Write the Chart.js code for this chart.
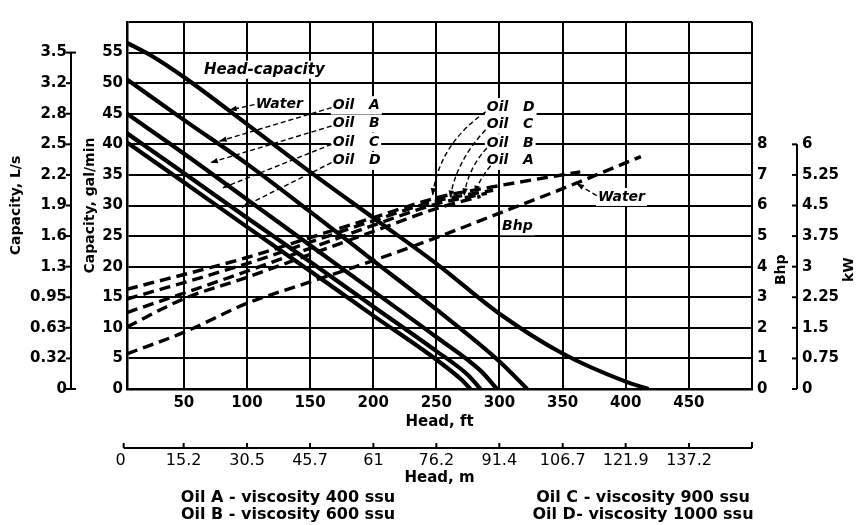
<!DOCTYPE html>
<html><head><meta charset="utf-8">
<script src="https://cdn.jsdelivr.net/npm/chart.js@4.4.0/dist/chart.umd.min.js"></script>
<style>html,body{margin:0;padding:0;background:#fff}</style>
</head><body>
<canvas id="c" width="857" height="525"></canvas>
<script>
// ---------------- data ----------------
const headFtTicks = [50, 100, 150, 200, 250, 300, 350, 400, 450];
const headMTicks = [0, 15.2, 30.5, 45.7, 61, 76.2, 91.4, 106.7, 121.9, 137.2];
const gpmTicks = [0, 5, 10, 15, 20, 25, 30, 35, 40, 45, 50, 55];
const lpsLabels = ['0', '0.32', '0.63', '0.95', '1.3', '1.6', '1.9', '2.2', '2.5', '2.8', '3.2', '3.5'];
const bhpTicks = [0, 1, 2, 3, 4, 5, 6, 7, 8];
const kwTicks = [0, 0.75, 1.5, 2.25, 3, 3.75, 4.5, 5.25, 6];
const kwLabels = ['0', '0.75', '1.5', '2.25', '3', '3.75', '4.5', '5.25', '6'];

// head-capacity curves: head (ft) -> capacity (gal/min)
const capWaterFt = [5, 25, 50, 100, 150, 200, 250, 300, 350, 400, 418];
const capWaterGpm = [56.6, 54.4, 51, 43.3, 35.5, 28, 20.5, 12.3, 5.8, 1.2, 0];
const capOilAFt = [5, 50, 100, 150, 200, 250, 300, 322];
const capOilAGpm = [50.6, 44, 36.8, 29, 21, 13, 4.5, 0];
const capOilBFt = [5, 50, 100, 150, 200, 250, 285, 298];
const capOilBGpm = [45, 38.5, 31, 23.5, 16, 8.5, 3, 0];
const capOilCFt = [5, 50, 100, 150, 200, 250, 275, 285];
const capOilCGpm = [41.8, 35.3, 28, 20.8, 13.5, 6.2, 2.3, 0];
const capOilDFt = [5, 50, 100, 150, 200, 250, 270, 277];
const capOilDGpm = [40.3, 33.8, 26.5, 19.3, 12, 4.8, 1.5, 0];

// brake horsepower curves: head (ft) -> Bhp
const bhpWaterFt = [5, 50, 100, 150, 200, 250, 300, 350, 412];
const bhpWater = [1.15, 1.85, 2.8, 3.5, 4.2, 4.95, 5.75, 6.55, 7.6];
const bhpOilDFt = [5, 100, 150, 200, 250, 300, 364];
const bhpOilD = [3.26, 4.3, 4.95, 5.6, 6.25, 6.65, 7.1];
const bhpOilCFt = [5, 100, 150, 200, 250, 295];
const bhpOilC = [2.94, 4.1, 4.8, 5.5, 6.15, 6.5];
const bhpOilBFt = [5, 100, 150, 200, 250, 290];
const bhpOilB = [2.5, 3.85, 4.6, 5.35, 6.05, 6.4];
const bhpOilAFt = [5, 50, 100, 150, 200, 250, 285];
const bhpOilA = [2.03, 2.95, 3.65, 4.4, 5.15, 5.9, 6.3];

const footnotes = [
  ['Oil A - viscosity 400 ssu', 'Oil B - viscosity 600 ssu'],
  ['Oil C - viscosity 900 ssu', 'Oil D- viscosity 1000 ssu']
];

// ---------------- chart ----------------
const F = '"DejaVu Sans", sans-serif';
const pts = (xs, ys) => xs.map((x, i) => ({x: x, y: ys[i]}));
const solid = (label, xs, ys) => ({label, data: pts(xs, ys), yAxisID: 'y', borderColor: '#000', borderWidth: 4.2,
  pointRadius: 0, fill: false, cubicInterpolationMode: 'monotone'});
const dashed = (label, xs, ys) => ({label, data: pts(xs, ys), yAxisID: 'yB', borderColor: '#000', borderWidth: 3.4,
  borderDash: [11, 6], pointRadius: 0, fill: false, cubicInterpolationMode: 'monotone'});

const decor = {
  id: 'decor',
  afterDatasetsDraw(chart) {
    const ctx = chart.ctx, s = chart.scales;
    const X = v => s.x.getPixelForValue(v), Y = v => s.y.getPixelForValue(v);
    ctx.save();
    ctx.strokeStyle = '#000'; ctx.fillStyle = '#000';

    function label(text, ft, gpm, size) {
      ctx.font = 'italic bold ' + (size || 14) + 'px ' + F;
      const w = ctx.measureText(text).width;
      const x = X(ft), y = Y(gpm);
      ctx.fillStyle = '#fff';
      ctx.fillRect(x - 2, y - 9, w + 4, 18);
      ctx.fillStyle = '#000';
      ctx.textAlign = 'left'; ctx.textBaseline = 'middle';
      ctx.fillText(text, x, y);
    }
    function arrow(pts, curve) {
      const p = pts.map(q => [X(q[0]), Y(q[1])]);
      ctx.save();
      ctx.lineWidth = 1.4; ctx.setLineDash([5, 3]);
      ctx.beginPath(); ctx.moveTo(p[0][0], p[0][1]);
      if (curve) ctx.quadraticCurveTo(p[1][0], p[1][1], p[2][0], p[2][1]);
      else ctx.lineTo(p[p.length - 1][0], p[p.length - 1][1]);
      ctx.stroke();
      ctx.setLineDash([]);
      const tip = p[p.length - 1], prev = curve ? p[1] : p[0];
      const a = Math.atan2(tip[1] - prev[1], tip[0] - prev[0]);
      ctx.beginPath();
      ctx.moveTo(tip[0], tip[1]);
      ctx.lineTo(tip[0] - 8 * Math.cos(a - 0.35), tip[1] - 8 * Math.sin(a - 0.35));
      ctx.lineTo(tip[0] - 8 * Math.cos(a + 0.35), tip[1] - 8 * Math.sin(a + 0.35));
      ctx.closePath(); ctx.fill();
      ctx.restore();
    }

    // left labels
    label('Head-capacity', 66, 52.2, 15);
    label('Water', 107, 46.6);
    label('Oil   A', 168, 46.4);
    label('Oil   B', 168, 43.4);
    label('Oil   C', 168, 40.4);
    label('Oil   D', 168, 37.3);
    arrow([[106, 46.5], [86, 45.6]]);
    arrow([[167, 46.0], [78, 40.5]]);
    arrow([[167, 43.0], [71, 37.0]]);
    arrow([[167, 40.0], [81, 32.9]]);
    arrow([[167, 37.0], [96, 29.7]]);
    // right labels
    label('Oil   D', 290, 46.1);
    label('Oil   C', 290, 43.2);
    label('Oil   B', 290, 40.2);
    label('Oil   A', 290, 37.3);
    arrow([[289, 45.3], [252, 40], [247, 31.6]], true);
    arrow([[289, 42.4], [265, 37], [261, 31.2]], true);
    arrow([[290, 39.4], [275, 36], [272, 31.6]], true);
    arrow([[293, 36.5], [283, 34], [281, 32.0]], true);
    label('Water', 378, 31.4);
    arrow([[377, 31.6], [361, 33.6]]);
    label('Bhp', 302, 26.6);

    // L/s axis line + ticks
    const ax = 71;
    ctx.lineWidth = 2;
    ctx.beginPath(); ctx.moveTo(ax, Y(0)); ctx.lineTo(ax, Y(55)); ctx.stroke();
    gpmTicks.forEach(v => { ctx.beginPath(); ctx.moveTo(ax - 5, Y(v)); ctx.lineTo(ax, Y(v)); ctx.stroke(); });
    ctx.beginPath(); ctx.moveTo(ax, Y(0)); ctx.lineTo(ax + 5, Y(0)); ctx.stroke();
    ctx.beginPath(); ctx.moveTo(ax, Y(55)); ctx.lineTo(ax + 5, Y(55)); ctx.stroke();

    // kW axis line + ticks
    const K = v => s.yK.getPixelForValue(v);
    const kx = 797;
    ctx.beginPath(); ctx.moveTo(kx, K(0)); ctx.lineTo(kx, K(6)); ctx.stroke();
    kwTicks.forEach(v => { ctx.beginPath(); ctx.moveTo(kx - 5, K(v)); ctx.lineTo(kx, K(v)); ctx.stroke(); });

    // metre axis line + ticks
    const M = v => s.xm.getPixelForValue(v);
    const my = 448;
    ctx.beginPath(); ctx.moveTo(M(0) + 3, my); ctx.lineTo(s.x.right, my); ctx.stroke();
    headMTicks.forEach(v => { ctx.beginPath(); ctx.moveTo(Math.max(M(v), M(0) + 3), my); ctx.lineTo(Math.max(M(v), M(0) + 3), my - 5); ctx.stroke(); });
    ctx.beginPath(); ctx.moveTo(s.x.right, my); ctx.lineTo(s.x.right, my - 6); ctx.stroke();

    // right titles (rotated)
    ctx.font = 'bold 14px ' + F; ctx.textAlign = 'center'; ctx.textBaseline = 'middle';
    [['Bhp', 781], ['kW', 849]].forEach(t => {
      ctx.save(); ctx.translate(t[1], Y(19.5)); ctx.rotate(-Math.PI / 2); ctx.fillText(t[0], 0, 0); ctx.restore();
    });

    // footnotes
    ctx.font = 'bold 16px ' + F; ctx.textAlign = 'center';
    ctx.fillText(footnotes[0][0], 288, 498); ctx.fillText(footnotes[0][1], 288, 515);
    ctx.fillText(footnotes[1][0], 643, 498); ctx.fillText(footnotes[1][1], 643, 515);
    ctx.restore();
  }
};

const tickFont = {family: F, size: 15, weight: 'bold'};
const titleFont = {family: F, size: 14, weight: 'bold'};
const xTitleFont = {family: F, size: 15, weight: 'bold'};

new Chart(document.getElementById('c'), {
  type: 'line',
  data: {
    datasets: [
      solid('Water head-capacity', capWaterFt, capWaterGpm),
      solid('Oil A head-capacity', capOilAFt, capOilAGpm),
      solid('Oil B head-capacity', capOilBFt, capOilBGpm),
      solid('Oil C head-capacity', capOilCFt, capOilCGpm),
      solid('Oil D head-capacity', capOilDFt, capOilDGpm),
      dashed('Water Bhp', bhpWaterFt, bhpWater),
      dashed('Oil D Bhp', bhpOilDFt, bhpOilD),
      dashed('Oil C Bhp', bhpOilCFt, bhpOilC),
      dashed('Oil B Bhp', bhpOilBFt, bhpOilB),
      dashed('Oil A Bhp', bhpOilAFt, bhpOilA)
    ]
  },
  options: {
    responsive: false, animation: false,
    layout: {padding: {top: 13, bottom: 38, left: 0, right: 0}},
    plugins: {legend: {display: false}, tooltip: {enabled: false}},
    scales: {
      x: {
        type: 'linear', position: 'bottom', min: 5, max: 500, weight: 0,
        afterBuildTicks: sc => { sc.ticks = headFtTicks.concat([500]).map(v => ({value: v})); },
        afterFit: sc => { sc.height = 46; },
        ticks: {autoSkip: false, maxRotation: 0, padding: 5, color: '#000', font: tickFont,
          callback: v => (v === 500 ? '' : String(v))},
        grid: {color: '#000', lineWidth: 2, drawTicks: false},
        border: {color: '#000', width: 2.5},
        title: {display: true, text: 'Head, ft', color: '#000', font: xTitleFont, padding: {top: 0, bottom: 4}}
      },
      xm: {
        type: 'linear', position: 'bottom', min: 5 * 0.3048, max: 500 * 0.3048, weight: 1,
        afterBuildTicks: sc => { sc.ticks = headMTicks.map(v => ({value: v})); },
        afterFit: sc => { sc.height = 52; },
        ticks: {autoSkip: false, maxRotation: 0, padding: 16, color: '#000',
          font: {family: F, size: 16}, callback: (v, i) => String(headMTicks[i])},
        grid: {display: false, drawTicks: false},
        border: {display: false},
        title: {display: true, text: 'Head, m', color: '#000', font: xTitleFont, padding: {top: 0, bottom: 0}}
      },
      y: {
        position: 'left', min: 0, max: 60, weight: 0,
        afterBuildTicks: sc => { sc.ticks = gpmTicks.concat([60]).map(v => ({value: v})); },
        afterFit: sc => { sc.width = 47; },
        ticks: {padding: 4, color: '#000', font: tickFont, callback: v => (v === 60 ? '' : String(v))},
        grid: {color: '#000', lineWidth: 2, drawTicks: false},
        border: {color: '#000', width: 2.5},
        title: {display: true, text: 'Capacity, gal/min', color: '#000', font: titleFont, padding: {top: 2, bottom: 0}}
      },
      yL: {
        position: 'left', min: 0, max: 60, weight: 1,
        afterBuildTicks: sc => { sc.ticks = gpmTicks.map(v => ({value: v})); },
        afterFit: sc => { sc.width = 80; },
        ticks: {padding: 13, color: '#000', font: tickFont, callback: (v, i) => lpsLabels[i]},
        grid: {display: false, drawTicks: false},
        border: {display: false},
        title: {display: true, text: 'Capacity, L/s', color: '#000', font: titleFont, padding: {top: 8, bottom: 0}}
      },
      yB: {
        position: 'right', min: 0, max: 12, weight: 0,
        afterBuildTicks: sc => { sc.ticks = bhpTicks.map(v => ({value: v})); },
        afterFit: sc => { sc.width = 42; },
        ticks: {padding: 5, color: '#000', font: tickFont},
        grid: {display: false, drawTicks: false},
        border: {display: false}
      },
      yK: {
        position: 'right', min: 0, max: 9, weight: 1,
        afterBuildTicks: sc => { sc.ticks = kwTicks.map(v => ({value: v})); },
        afterFit: sc => { sc.width = 63; },
        ticks: {padding: 8, color: '#000', font: tickFont, callback: (v, i) => kwLabels[i]},
        grid: {display: false, drawTicks: false},
        border: {display: false}
      }
    }
  },
  plugins: [decor]
});
</script>
</body></html>
